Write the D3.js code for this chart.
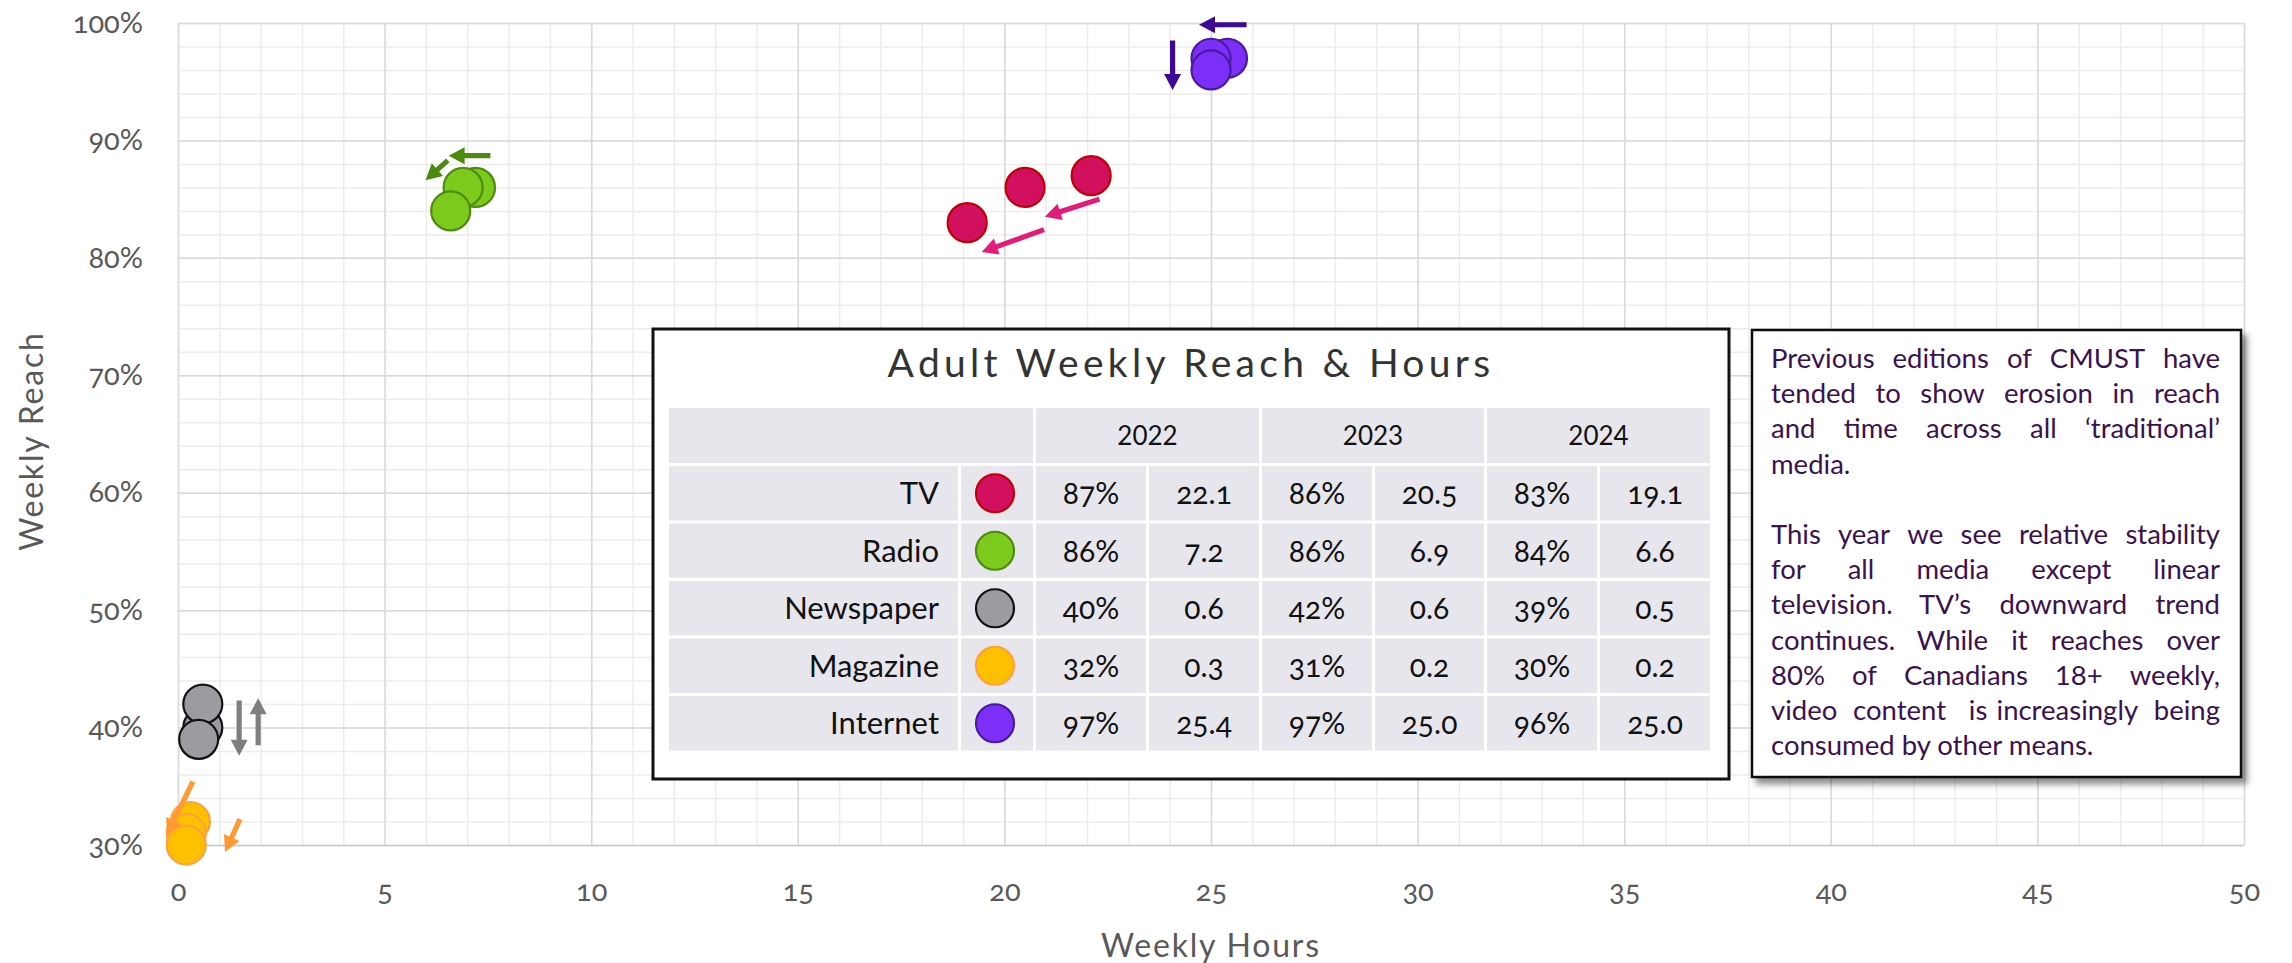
<!DOCTYPE html>
<html>
<head>
<meta charset="utf-8">
<script src="https://cdn.jsdelivr.net/npm/d3@7"></script>
<style>
	body { margin: 0; background: #fff; }
	svg { display: block; font-family: Lato, "Open Sans", sans-serif; }
	.onum { font-variant-numeric: oldstyle-nums; }
</style>
</head>
<body>
<div id="chart"></div>
<script>

const media = ["TV", "Radio", "Newspaper", "Magazine", "Internet"];
const years = ["2022", "2023", "2024"];

// reach (%) and weekly hours per year, same order as media
const reach2022 = [87, 86, 40, 32, 97];
const hours2022 = [22.1, 7.2, 0.6, 0.3, 25.4];
const reach2023 = [86, 86, 42, 31, 97];
const hours2023 = [20.5, 6.9, 0.6, 0.2, 25.0];
const reach2024 = [83, 84, 39, 30, 96];
const hours2024 = [19.1, 6.6, 0.5, 0.2, 25.0];

const fills   = ["#d30f60", "#7cca1c", "#9a9ca0", "#ffc000", "#7b2ff7"];
const strokes = ["#c00000", "#4f8a10", "#111111", "#ffa040", "#4a1a9e"];
const arrowColors = ["#e31c79", "#4f8a10", "#7f7f7f", "#ff9933", "#3c0a96"];

const xTicks = [0, 5, 10, 15, 20, 25, 30, 35, 40, 45, 50];
const yTicks = [30, 40, 50, 60, 70, 80, 90, 100];

// trend arrows, in data units: [media index, hours from, reach from, hours to, reach to]
const arrows = [
	[0, 22.30, 85.0, 20.98, 83.5],
	[0, 20.96, 82.4, 19.45, 80.5],
	[1, 7.56, 88.7, 6.55, 88.7],
	[1, 6.53, 88.3, 5.99, 86.6],
	[2, 1.48, 42.3, 1.48, 37.6],
	[2, 1.94, 38.5, 1.94, 42.5],
	[3, 0.36, 35.4, -0.27, 30.85],
	[3, 1.50, 32.2, 1.14, 29.4],
	[4, 25.86, 99.85, 24.71, 99.85],
	[4, 24.07, 98.5, 24.07, 94.3]
];

const noteLines = [
	["Previous editions of CMUST have", true],
	["tended to show erosion in reach", true],
	["and time across all \u2018traditional\u2019", true],
	["media.", false],
	["", false],
	["This year we see relative stability", true],
	["for all media except linear", true],
	["television.  TV\u2019s downward trend", true],
	["continues.  While it reaches over", true],
	["80% of Canadians 18+ weekly,", true],
	["video content is increasingly being", true],
	["consumed by other means.", false]
];

const W = 2292, H = 963;
const plotL = 178, plotR = 2244, plotT = 23, plotB = 845;

const svg = d3.select("#chart").append("svg")
	.attr("width", W).attr("height", H)
	.attr("viewBox", `0 0 ${W} ${H}`);

const defs = svg.append("defs");
const shadow = defs.append("filter").attr("id", "shadow")
	.attr("x", "-10%").attr("y", "-10%").attr("width", "130%").attr("height", "130%");
shadow.append("feDropShadow").attr("dx", 5).attr("dy", 6).attr("stdDeviation", 3)
	.attr("flood-color", "#000").attr("flood-opacity", 0.45);

const x = d3.scaleLinear().domain([0, 50]).range([plotL, plotR]);
const y = d3.scaleLinear().domain([30, 100]).range([plotB, plotT]);

// grid
const minorX = d3.range(0, 51, 1);
const minorY = d3.range(30, 101, 2);

svg.append("g")
	.attr("transform", `translate(0,${plotB})`)
	.call(d3.axisBottom(x).tickValues(minorX).tickSize(-(plotB - plotT)).tickFormat(""))
	.call(g => g.select(".domain").remove())
	.selectAll("line").attr("stroke", "#ececec").attr("stroke-width", 1.5);
svg.append("g")
	.attr("transform", `translate(${plotL},0)`)
	.call(d3.axisLeft(y).tickValues(minorY).tickSize(-(plotR - plotL)).tickFormat(""))
	.call(g => g.select(".domain").remove())
	.selectAll("line").attr("stroke", "#ececec").attr("stroke-width", 1.5);

svg.append("g")
	.attr("transform", `translate(0,${plotB})`)
	.call(d3.axisBottom(x).tickValues(xTicks).tickSize(-(plotB - plotT)).tickFormat(""))
	.call(g => g.select(".domain").remove())
	.selectAll("line").attr("stroke", "#d9d9d9").attr("stroke-width", 1.5);
svg.append("g")
	.attr("transform", `translate(${plotL},0)`)
	.call(d3.axisLeft(y).tickValues(yTicks).tickSize(-(plotR - plotL)).tickFormat(""))
	.call(g => g.select(".domain").remove())
	.selectAll("line").attr("stroke", d => d === 30 ? "#c8c8c8" : "#d9d9d9").attr("stroke-width", 1.5);

// tick labels
const xAxis = svg.append("g")
	.attr("transform", `translate(0,${plotB})`)
	.call(d3.axisBottom(x).tickValues(xTicks).tickSize(0).tickPadding(35));
xAxis.select(".domain").remove();
xAxis.selectAll("text").attr("font-size", 29).attr("fill", "#595959")
	.attr("font-family", "Lato").attr("class", "onum");

const yAxis = svg.append("g")
	.attr("transform", `translate(${plotL},0)`)
	.call(d3.axisLeft(y).tickValues(yTicks).tickSize(0).tickPadding(35).tickFormat(d => d + "%"));
yAxis.select(".domain").remove();
yAxis.selectAll("text").attr("font-size", 29).attr("fill", "#595959")
	.attr("font-family", "Lato").attr("class", "onum");

svg.append("text")
	.attr("x", (plotL + plotR) / 2).attr("y", 957)
	.attr("text-anchor", "middle")
	.attr("font-size", 32).attr("letter-spacing", 1.8).attr("fill", "#595959")
	.text("Weekly Hours");
svg.append("text")
	.attr("transform", "translate(43,441) rotate(-90)")
	.attr("text-anchor", "middle")
	.attr("font-size", 32).attr("letter-spacing", 1.8).attr("fill", "#595959")
	.text("Weekly Reach");

// points
const reachByYear = [reach2022, reach2023, reach2024];
const hoursByYear = [hours2022, hours2023, hours2024];
const points = [];
years.forEach((yr, j) => {
	media.forEach((m, i) => {
		points.push({ media: i, year: yr, reach: reachByYear[j][i], hours: hoursByYear[j][i] });
	});
});
points.sort((a, b) => a.media - b.media);

svg.append("g").selectAll("circle")
	.data(points)
	.enter()
	.append("circle")
	.attr("cx", d => x(d.hours))
	.attr("cy", d => y(d.reach))
	.attr("r", 19.5)
	.attr("fill", d => fills[d.media])
	.attr("stroke", d => strokes[d.media])
	.attr("stroke-width", 2.2);

// arrows
function arrowPath(x1, y1, x2, y2) {
	const dx = x2 - x1, dy = y2 - y1;
	const len = Math.sqrt(dx * dx + dy * dy);
	const ux = dx / len, uy = dy / len;
	const px = -uy, py = ux;
	const hl = 16, hw = 8.5, sw = 2.6;
	const bx = x2 - ux * hl, by = y2 - uy * hl;
	const pts = [
		[x1 + px * sw, y1 + py * sw],
		[bx + px * sw, by + py * sw],
		[bx + px * hw, by + py * hw],
		[x2, y2],
		[bx - px * hw, by - py * hw],
		[bx - px * sw, by - py * sw],
		[x1 - px * sw, y1 - py * sw]
	];
	return "M" + pts.map(p => p.join(",")).join("L") + "Z";
}

svg.append("g").selectAll("path")
	.data(arrows)
	.enter()
	.append("path")
	.attr("d", d => arrowPath(x(d[1]), y(d[2]), x(d[3]), y(d[4])))
	.attr("fill", d => arrowColors[d[0]]);

// table box
const bx0 = 653, bx1 = 1729, by0 = 329, by1 = 779;
const tbl = svg.append("g");
tbl.append("rect")
	.attr("x", bx0).attr("y", by0).attr("width", bx1 - bx0).attr("height", by1 - by0)
	.attr("fill", "#fff").attr("stroke", "#111").attr("stroke-width", 3);
tbl.append("text")
	.attr("x", (bx0 + bx1) / 2).attr("y", 377)
	.attr("text-anchor", "middle")
	.attr("font-size", 39).attr("letter-spacing", 4.3).attr("fill", "#333")
	.text("Adult Weekly Reach & Hours");

const colX = [669, 961, 1036, 1149, 1262, 1375, 1487, 1600];
const colW = [289, 72, 110, 110, 110, 109, 110, 110];
const cellFill = "#e7e6ec";
const headY = 408, headH = 55, rowY0 = 466, rowPitch = 57.5, rowH = 54.5;

tbl.append("rect").attr("x", colX[0]).attr("y", headY)
	.attr("width", colX[1] + colW[1] - colX[0]).attr("height", headH).attr("fill", cellFill);
years.forEach((yr, j) => {
	const cx0 = colX[2 + j * 2];
	const cw = colX[3 + j * 2] + colW[3 + j * 2] - cx0;
	tbl.append("rect").attr("x", cx0).attr("y", headY).attr("width", cw).attr("height", headH).attr("fill", cellFill);
	tbl.append("text").attr("x", cx0 + cw / 2).attr("y", headY + headH / 2)
		.attr("dy", "0.35em").attr("text-anchor", "middle")
		.attr("font-size", 26).attr("fill", "#111").text(yr);
});

media.forEach((m, i) => {
	const ry = rowY0 + i * rowPitch;
	colX.forEach((cx0, k) => {
		tbl.append("rect").attr("x", cx0).attr("y", ry).attr("width", colW[k]).attr("height", rowH).attr("fill", cellFill);
	});
	tbl.append("text").attr("x", colX[0] + colW[0] - 19).attr("y", ry + rowH / 2)
		.attr("dy", "0.36em").attr("text-anchor", "end")
		.attr("font-size", 31).attr("fill", "#111").text(m);
	tbl.append("circle").attr("cx", colX[1] + colW[1] / 2 - 2).attr("cy", ry + rowH / 2)
		.attr("r", 19).attr("fill", fills[i]).attr("stroke", strokes[i]).attr("stroke-width", 2.2);
	years.forEach((yr, j) => {
		const vals = [reachByYear[j][i] + "%", hoursByYear[j][i].toFixed(1)];
		vals.forEach((v, k) => {
			const c = 2 + j * 2 + k;
			tbl.append("text").attr("class", "onum")
				.attr("x", colX[c] + colW[c] / 2).attr("y", ry + rowH / 2)
				.attr("dy", "0.36em").attr("text-anchor", "middle")
				.attr("font-size", 30).attr("fill", "#111").text(v);
		});
	});
});

// note box
const nx0 = 1752, nx1 = 2241, ny0 = 330, ny1 = 777;
const note = svg.append("g");
note.append("rect")
	.attr("x", nx0).attr("y", ny0).attr("width", nx1 - nx0).attr("height", ny1 - ny0)
	.attr("fill", "#fff").attr("stroke", "#111").attr("stroke-width", 2.5)
	.attr("filter", "url(#shadow)");

const textLeft = 1771, textRight = 2220, base0 = 368, pitch = 35.2;
noteLines.forEach(([line, justify], li) => {
	if (!line) return;
	const by = base0 + li * pitch;
	const t = note.append("text").attr("y", by).attr("font-size", 27.5).attr("fill", "#3b1250");
	const words = line.split(/\s+/);
	if (!justify) {
		t.attr("x", textLeft).text(line);
		return;
	}
	const spans = words.map(w => t.append("tspan").text(w));
	const widths = spans.map(s => s.node().getComputedTextLength());
	const gap = (textRight - textLeft - d3.sum(widths)) / (words.length - 1);
	let cx = textLeft;
	spans.forEach((s, k) => {
		s.attr("x", cx);
		cx += widths[k] + gap;
	});
});

</script>
</body>
</html>
